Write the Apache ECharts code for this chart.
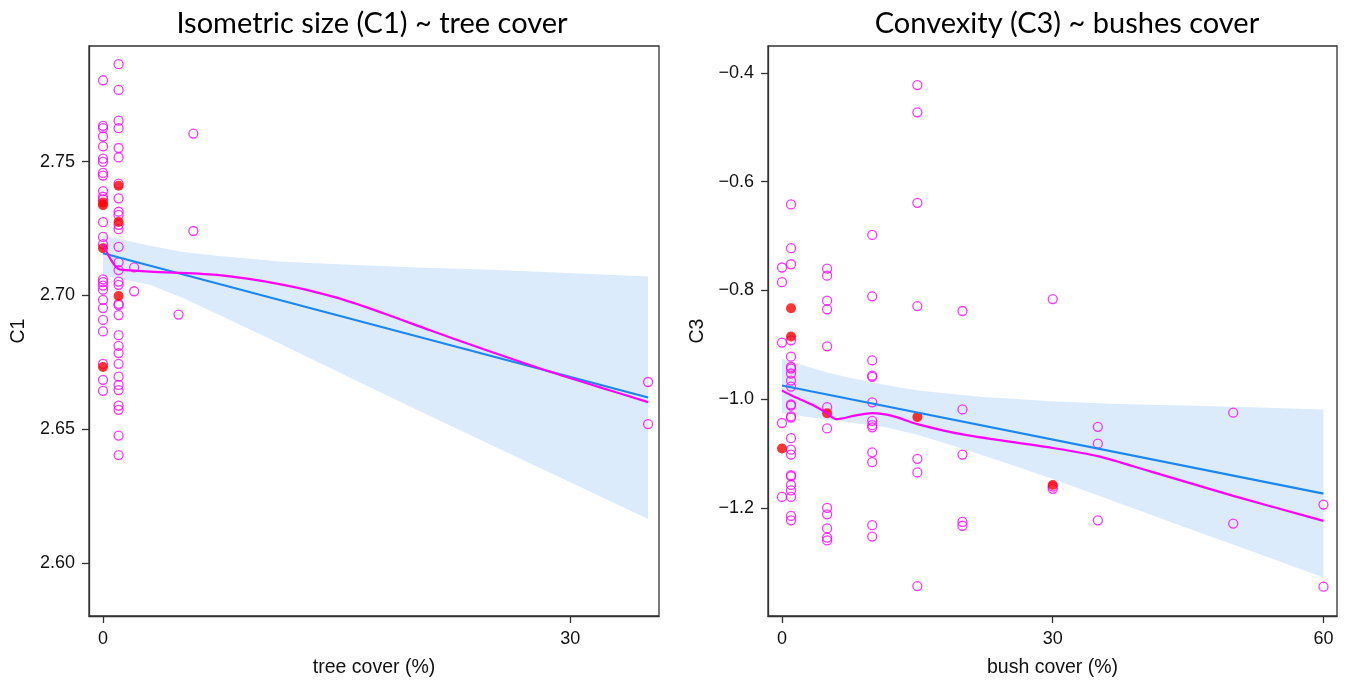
<!DOCTYPE html>
<html>
<head>
<meta charset="utf-8">
<script src="https://cdn.jsdelivr.net/npm/echarts@6/dist/echarts.min.js"></script>
<style>
html,body{margin:0;padding:0;background:#fff;}
#chart{width:1352px;height:683px;}
</style>
</head>
<body>
<div id="chart"></div>
<script>
// ---------- Left panel: Isometric size (C1) ~ tree cover ----------
const c1Open_x0 = [2.7804,2.7634,2.7625,2.7594,2.7557,2.7511,2.7499,2.7458,2.7448,2.7390,2.7369,2.7359,2.7274,2.7219,2.7192,2.7060,2.7050,2.7037,2.7022,2.6984,2.6953,2.6909,2.6866,2.6745,2.6685,2.6644];
const c1Open_x1 = [2.7864,2.7768,2.7653,2.7625,2.7551,2.7516,2.7418,2.7363,2.7313,2.7301,2.7264,2.7248,2.7182,2.7124,2.7095,2.7052,2.7040,2.6969,2.6964,2.6927,2.6852,2.6812,2.6785,2.6745,2.6697,2.6666,2.6647,2.6589,2.6573,2.6477,2.6404];
const c1Open_other = [[2,2.7105],[2,2.7016],[4.85,2.6929],[5.8,2.7605],[5.8,2.7241],[35,2.6677],[35,2.6520]];
const c1Red = [[0,2.7347],[0,2.7337],[0,2.7177],[0,2.6733],[1,2.7410],[1,2.7275],[1,2.6998]];
const c1Fit = [[0,2.7158],[35,2.6619]];
const c1Loess = [[0,2.7192],[1,2.7099],[2,2.7093],[3.02,2.7089],[7.3,2.7077],[11.58,2.7040],[15,2.6992],[18,2.6934],[21,2.6870],[24.4,2.6800],[28.7,2.6715],[32.3,2.6650],[35,2.6602]];
const c1BandX     = [0,     3.02,   5.16,   7.30,   11.58,  15.86,  20.14,  24.42,  28.7,   35];
const c1BandUpper = [2.7225,2.7186, 2.7163, 2.7149, 2.7126, 2.7115, 2.7105, 2.7097, 2.7087, 2.7071];
const c1BandLower = [2.7074,2.7040, 2.6990, 2.6932, 2.6814, 2.6693, 2.6573, 2.6456, 2.6338, 2.6165];
const c1Ticks = [2.60, 2.65, 2.70, 2.75];
const treeTicks = [0, 30];

// ---------- Right panel: Convexity (C3) ~ bushes cover ----------
const c3_x0  = [-0.758,-0.785,-0.896,-1.044,-1.180];
const c3_x1  = [-0.642,-0.7225,-0.752,-0.892,-0.922,-0.941,-0.944,-0.953,-0.966,-0.977,-1.010,-1.012,-1.032,-1.034,-1.072,-1.093,-1.102,-1.140,-1.142,-1.158,-1.168,-1.180,-1.215,-1.223];
const c3_x5  = [-0.760,-0.773,-0.819,-0.835,-0.903,-1.015,-1.054,-1.200,-1.212,-1.238,-1.255,-1.260];
const c3_x10 = [-0.698,-0.811,-0.929,-0.957,-0.959,-1.006,-1.040,-1.048,-1.052,-1.098,-1.116,-1.232,-1.253];
const c3_x15 = [-0.4225,-0.4725,-0.639,-0.829,-1.110,-1.135,-1.344];
const c3_x20 = [-0.838,-1.019,-1.102,-1.226,-1.233];
const c3_x30 = [-0.816,-1.161,-1.165];
const c3_x35 = [-1.051,-1.082,-1.223];
const c3_x50 = [-1.025,-1.229];
const c3_x60 = [-1.194,-1.345];
const c3Red = [[0,-1.091],[1,-0.833],[1,-0.885],[5,-1.026],[15,-1.033],[30,-1.158]];
const c3Fit = [[0,-0.975],[60,-1.174]];
const c3Loess = [[0,-0.984],[1,-0.993],[3.3,-1.010],[5,-1.026],[6,-1.037],[8.2,-1.030],[10,-1.026],[12.2,-1.031],[15,-1.046],[20,-1.065],[30,-1.090],[35,-1.105],[40.8,-1.133],[50,-1.178],[60,-1.224]];
const c3BandX     = [0,     5,      7.51,   11.2,   14.9,   18.6,   22.3,   25.98,  29.7,   37.1,   44.5,   51.9,   60];
const c3BandUpper = [-0.926,-0.951, -0.961, -0.973, -0.984, -0.990, -0.996, -1.000, -1.004, -1.009, -1.012, -1.015, -1.019];
const c3BandLower = [-1.026,-1.038, -1.043, -1.051, -1.065, -1.084, -1.104, -1.124, -1.145, -1.190, -1.235, -1.279, -1.328];
const c3Ticks = [-1.2, -1.0, -0.8, -0.6, -0.4];
const bushTicks = [0, 30, 60];

const MAG = '#FF00FF', RED = '#FF0000', BLUE = '#1A86F2', BAND = '#DCEBFC', AX = '#333';

function col(x, ys){ return ys.map(y => [x, y]); }
function bandSeries(xi, bx, up, lo){
  return {
    type:'custom', xAxisIndex:xi, yAxisIndex:xi, data:[[bx[0], up[0]]], silent:true, z:1,
    renderItem:(params, api) => {
      const top = bx.map((x,i)=>api.coord([x, up[i]]));
      const bot = bx.map((x,i)=>api.coord([x, lo[i]])).reverse();
      return {type:'polygon', shape:{points: top.concat(bot)}, style:{fill:BAND}};
    }
  };
}
function openScatter(xi, data){
  return {type:'scatter', xAxisIndex:xi, yAxisIndex:xi, data, symbol:'circle', symbolSize:9, z:3,
    itemStyle:{color:'rgba(0,0,0,0)', borderColor:MAG, borderWidth:1.3}, silent:true};
}
function redScatter(xi, data){
  return {type:'scatter', xAxisIndex:xi, yAxisIndex:xi, data, symbol:'circle', symbolSize:10, z:4,
    itemStyle:{color:RED}, silent:true};
}
function line(xi, data, color, smooth){
  return {type:'line', xAxisIndex:xi, yAxisIndex:xi, data, showSymbol:false, smooth, z:5,
    lineStyle:{color, width:2.2}, silent:true};
}
const tickFont = {fontFamily:'Liberation Sans, Arial, sans-serif', fontSize:18, color:'#111'};
const nameFont = {fontFamily:'Liberation Sans, Arial, sans-serif', fontSize:19.5, color:'#111'};
function xAx(gi, min, max, ticks, name){
  return {type:'value', gridIndex:gi, min, max, name, nameLocation:'middle', nameGap:42,
    nameTextStyle:Object.assign({}, nameFont),
    axisLine:{show:true, onZero:false, lineStyle:{color:AX, width:1.3}},
    axisTick:{show:true, inside:false, length:7, customValues:ticks, lineStyle:{color:AX, width:1.3}},
    axisLabel:Object.assign({show:true, margin:14, customValues:ticks, formatter:v=>String(v)}, tickFont),
    splitLine:{show:false}};
}
function yAx(gi, min, max, ticks, name, dec){
  return {type:'value', gridIndex:gi, min, max, name, nameLocation:'middle', nameGap:60,
    nameTextStyle:Object.assign({}, nameFont),
    axisLine:{show:true, onZero:false, lineStyle:{color:AX, width:1.3}},
    axisTick:{show:true, inside:false, length:7, customValues:ticks, lineStyle:{color:AX, width:1.3}},
    axisLabel:Object.assign({show:true, margin:14, customValues:ticks, formatter:v=>v.toFixed(dec).replace('-', '\u2212')}, tickFont),
    splitLine:{show:false}};
}

const chart = echarts.init(document.getElementById('chart'), null, {renderer:'canvas'});
chart.setOption({
  backgroundColor:'#fff',
  animation:false,
  title:[
    {text:'Isometric size (C1) ~ tree cover', left:367, top:4, textAlign:'center',
     textStyle:{fontFamily:'Lato, Open Sans, sans-serif', fontSize:29, fontWeight:'normal', color:'#000'}},
    {text:'Convexity (C3) ~ bushes cover', left:1062, top:4, textAlign:'center',
     textStyle:{fontFamily:'Lato, Open Sans, sans-serif', fontSize:29, fontWeight:'normal', color:'#000'}}
  ],
  grid:[
    {left:89, top:46, width:570, height:573, show:true, borderColor:AX, borderWidth:1.3, backgroundColor:'transparent'},
    {left:768, top:46, width:569, height:573, show:true, borderColor:AX, borderWidth:1.3, backgroundColor:'transparent'}
  ],
  xAxis:[
    xAx(0, -0.9, 35.7, treeTicks, 'tree cover (%)'),
    xAx(1, -1.55, 61.5, bushTicks, 'bush cover (%)')
  ],
  yAxis:[
    yAx(0, 2.5803, 2.7932, c1Ticks, 'C1', 2),
    yAx(1, -1.399, -0.3506, c3Ticks, 'C3', 1)
  ],
  series:[
    bandSeries(0, c1BandX, c1BandUpper, c1BandLower),
    openScatter(0, col(0, c1Open_x0).concat(col(1, c1Open_x1), c1Open_other)),
    redScatter(0, c1Red),
    line(0, c1Fit, BLUE, false),
    line(0, c1Loess, MAG, 0.3),
    bandSeries(1, c3BandX, c3BandUpper, c3BandLower),
    openScatter(1, [].concat(col(0,c3_x0), col(1,c3_x1), col(5,c3_x5), col(10,c3_x10), col(15,c3_x15), col(20,c3_x20), col(30,c3_x30), col(35,c3_x35), col(50,c3_x50), col(60,c3_x60))),
    redScatter(1, c3Red),
    line(1, c3Fit, BLUE, false),
    line(1, c3Loess, MAG, 0.3)
  ]
});
</script>
</body>
</html>
